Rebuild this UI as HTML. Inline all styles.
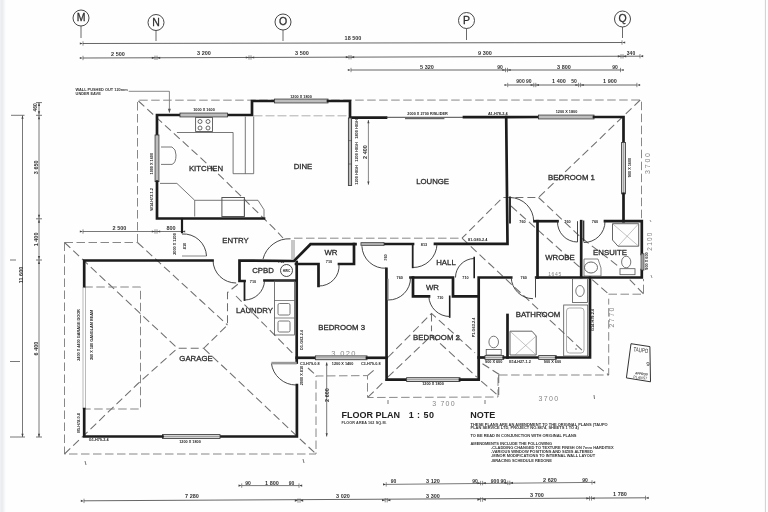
<!DOCTYPE html>
<html><head><meta charset="utf-8"><style>
html,body{margin:0;padding:0;background:#fff;}
body{width:768px;height:512px;overflow:hidden;position:relative;}
svg{position:absolute;left:0;top:0;font-family:"Liberation Sans",sans-serif;filter:blur(0.35px);}
</style></head><body>
<svg width="768" height="512" viewBox="0 0 768 512">
<rect x="0" y="0" width="768" height="512" fill="#fefefe"/>
<defs><linearGradient id="lg" x1="0" y1="0" x2="1" y2="0"><stop offset="0" stop-color="#f0f1f3"/><stop offset="0.35" stop-color="#e9ebee"/><stop offset="0.65" stop-color="#f3f4f5"/><stop offset="1" stop-color="#fefefe"/></linearGradient></defs>
<rect x="0" y="0" width="6" height="512" fill="url(#lg)"/>
<line x1="765.4" y1="0" x2="765.4" y2="512" stroke="#cfcfcf" stroke-width="1"/>
<circle cx="81" cy="18" r="8" fill="none" stroke="#333" stroke-width="0.9"/>
<line x1="81" y1="26" x2="81" y2="38" stroke="#444" stroke-width="0.8"/>
<text x="81" y="21.28" font-size="10.5" text-anchor="middle" font-weight="normal" fill="#333" stroke="#2a2a2a" stroke-width="0.28">M</text>
<circle cx="156" cy="22.5" r="8" fill="none" stroke="#333" stroke-width="0.9"/>
<line x1="156" y1="30.5" x2="156" y2="41" stroke="#444" stroke-width="0.8"/>
<text x="156" y="25.78" font-size="10.5" text-anchor="middle" font-weight="normal" fill="#333" stroke="#2a2a2a" stroke-width="0.28">N</text>
<circle cx="283" cy="22" r="8" fill="none" stroke="#333" stroke-width="0.9"/>
<line x1="283" y1="30" x2="283" y2="41" stroke="#444" stroke-width="0.8"/>
<text x="283" y="25.28" font-size="10.5" text-anchor="middle" font-weight="normal" fill="#333" stroke="#2a2a2a" stroke-width="0.28">O</text>
<circle cx="466.5" cy="20.5" r="8" fill="none" stroke="#333" stroke-width="0.9"/>
<line x1="466.5" y1="28.5" x2="466.5" y2="40" stroke="#444" stroke-width="0.8"/>
<text x="466.5" y="23.78" font-size="10.5" text-anchor="middle" font-weight="normal" fill="#333" stroke="#2a2a2a" stroke-width="0.28">P</text>
<circle cx="622.5" cy="19" r="8" fill="none" stroke="#333" stroke-width="0.9"/>
<line x1="622.5" y1="27" x2="622.5" y2="38" stroke="#444" stroke-width="0.8"/>
<text x="622.5" y="22.28" font-size="10.5" text-anchor="middle" font-weight="normal" fill="#333" stroke="#2a2a2a" stroke-width="0.28">Q</text>
<line x1="83" y1="43.5" x2="622" y2="42.5" stroke="#555" stroke-width="0.9"/>
<line x1="83" y1="41.3" x2="83" y2="45.7" stroke="#444" stroke-width="0.6"/>
<path d="M83,43.5 L79.8,42.4 L79.8,44.6 Z" fill="#444"/>
<line x1="622" y1="40.3" x2="622" y2="44.7" stroke="#444" stroke-width="0.6"/>
<path d="M622,42.5 L625.2,41.4 L625.2,43.6 Z" fill="#444"/>
<text x="353" y="40.48" font-size="5.5" text-anchor="middle" font-weight="bold" fill="#333">18 500</text>
<line x1="83" y1="58" x2="640" y2="56.2" stroke="#555" stroke-width="0.9"/>
<line x1="83" y1="55.8" x2="83" y2="60.2" stroke="#444" stroke-width="0.6"/>
<path d="M83,58 L79.8,56.9 L79.8,59.1 Z" fill="#444"/>
<line x1="640" y1="54.0" x2="640" y2="58.400000000000006" stroke="#444" stroke-width="0.6"/>
<path d="M640,56.2 L643.2,55.1 L643.2,57.300000000000004 Z" fill="#444"/>
<line x1="155" y1="55.599999999999994" x2="155" y2="60.0" stroke="#444" stroke-width="0.6"/>
<line x1="157" y1="55.599999999999994" x2="157" y2="60.0" stroke="#444" stroke-width="0.6"/>
<path d="M155,57.8 L151.8,56.699999999999996 L151.8,58.9 Z" fill="#444"/>
<path d="M157,57.8 L160.2,56.699999999999996 L160.2,58.9 Z" fill="#444"/>
<line x1="249" y1="55.3" x2="249" y2="59.7" stroke="#444" stroke-width="0.6"/>
<line x1="251" y1="55.3" x2="251" y2="59.7" stroke="#444" stroke-width="0.6"/>
<path d="M249,57.5 L245.8,56.4 L245.8,58.6 Z" fill="#444"/>
<path d="M251,57.5 L254.2,56.4 L254.2,58.6 Z" fill="#444"/>
<line x1="349" y1="55.0" x2="349" y2="59.400000000000006" stroke="#444" stroke-width="0.6"/>
<line x1="351" y1="55.0" x2="351" y2="59.400000000000006" stroke="#444" stroke-width="0.6"/>
<path d="M349,57.2 L345.8,56.1 L345.8,58.300000000000004 Z" fill="#444"/>
<path d="M351,57.2 L354.2,56.1 L354.2,58.300000000000004 Z" fill="#444"/>
<line x1="621" y1="54.099999999999994" x2="621" y2="58.5" stroke="#444" stroke-width="0.6"/>
<line x1="623" y1="54.099999999999994" x2="623" y2="58.5" stroke="#444" stroke-width="0.6"/>
<path d="M621,56.3 L617.8,55.199999999999996 L617.8,57.4 Z" fill="#444"/>
<path d="M623,56.3 L626.2,55.199999999999996 L626.2,57.4 Z" fill="#444"/>
<line x1="351" y1="67.8" x2="351" y2="72.2" stroke="#444" stroke-width="0.6"/>
<path d="M351,70 L347.8,68.9 L347.8,71.1 Z" fill="#444"/>
<line x1="505.5" y1="67.8" x2="505.5" y2="72.2" stroke="#444" stroke-width="0.6"/>
<line x1="507.5" y1="67.8" x2="507.5" y2="72.2" stroke="#444" stroke-width="0.6"/>
<path d="M505.5,70 L502.3,68.9 L502.3,71.1 Z" fill="#444"/>
<path d="M507.5,70 L510.7,68.9 L510.7,71.1 Z" fill="#444"/>
<line x1="620.5" y1="67.8" x2="620.5" y2="72.2" stroke="#444" stroke-width="0.6"/>
<path d="M620.5,70 L623.7,68.9 L623.7,71.1 Z" fill="#444"/>
<line x1="507.7" y1="82.8" x2="507.7" y2="87.2" stroke="#444" stroke-width="0.6"/>
<path d="M507.7,85 L504.5,83.9 L504.5,86.1 Z" fill="#444"/>
<line x1="533.8" y1="82.8" x2="533.8" y2="87.2" stroke="#444" stroke-width="0.6"/>
<line x1="535.8" y1="82.8" x2="535.8" y2="87.2" stroke="#444" stroke-width="0.6"/>
<path d="M533.8,85 L530.5999999999999,83.9 L530.5999999999999,86.1 Z" fill="#444"/>
<path d="M535.8,85 L539.0,83.9 L539.0,86.1 Z" fill="#444"/>
<line x1="578.6" y1="82.8" x2="578.6" y2="87.2" stroke="#444" stroke-width="0.6"/>
<line x1="580.6" y1="82.8" x2="580.6" y2="87.2" stroke="#444" stroke-width="0.6"/>
<path d="M578.6,85 L575.4,83.9 L575.4,86.1 Z" fill="#444"/>
<path d="M580.6,85 L583.8000000000001,83.9 L583.8000000000001,86.1 Z" fill="#444"/>
<line x1="636.9" y1="82.8" x2="636.9" y2="87.2" stroke="#444" stroke-width="0.6"/>
<path d="M636.9,85 L640.1,83.9 L640.1,86.1 Z" fill="#444"/>
<text x="118" y="55.98" font-size="5.5" text-anchor="middle" font-weight="bold" fill="#333">2 500</text>
<text x="204" y="55.48" font-size="5.5" text-anchor="middle" font-weight="bold" fill="#333">3 200</text>
<text x="302" y="54.98" font-size="5.5" text-anchor="middle" font-weight="bold" fill="#333">3 500</text>
<text x="485" y="54.98" font-size="5.5" text-anchor="middle" font-weight="bold" fill="#333">9 300</text>
<text x="631" y="54.8" font-size="5" text-anchor="middle" font-weight="bold" fill="#333">340</text>
<line x1="351" y1="70" x2="621" y2="70" stroke="#555" stroke-width="0.9"/>
<text x="427" y="68.98" font-size="5.5" text-anchor="middle" font-weight="bold" fill="#333">5 320</text>
<text x="500" y="68.8" font-size="5" text-anchor="middle" font-weight="bold" fill="#333">90</text>
<text x="564" y="68.98" font-size="5.5" text-anchor="middle" font-weight="bold" fill="#333">3 800</text>
<text x="615" y="68.8" font-size="5" text-anchor="middle" font-weight="bold" fill="#333">90</text>
<line x1="507.7" y1="85" x2="637" y2="85" stroke="#555" stroke-width="0.9"/>
<text x="524" y="82.8" font-size="5" text-anchor="middle" font-weight="bold" fill="#333">900 90</text>
<text x="559" y="82.98" font-size="5.5" text-anchor="middle" font-weight="bold" fill="#333">1 400</text>
<text x="574" y="82.8" font-size="5" text-anchor="middle" font-weight="bold" fill="#333">50</text>
<text x="610" y="82.98" font-size="5.5" text-anchor="middle" font-weight="bold" fill="#333">1 900</text>
<text x="75.6" y="91.1" font-size="3.9" font-weight="bold" fill="#333">WALL PUSHED OUT 120mm</text>
<text x="75.6" y="95.2" font-size="3.9" font-weight="bold" fill="#333">UNDER EAVE</text>
<line x1="128.7" y1="91.3" x2="169.4" y2="91.3" stroke="#555" stroke-width="0.7"/>
<line x1="169.4" y1="91.3" x2="169.4" y2="112.5" stroke="#555" stroke-width="0.7"/>
<path d="M169.4,113 L167.9,108.8 L170.9,108.8 Z" fill="#555"/>
<line x1="22.5" y1="115.5" x2="22.5" y2="437" stroke="#555" stroke-width="0.8"/>
<line x1="11" y1="115.3" x2="24.5" y2="115.3" stroke="#555" stroke-width="0.8"/>
<line x1="10" y1="437" x2="25" y2="437" stroke="#555" stroke-width="0.8"/>
<line x1="39" y1="102.6" x2="39" y2="437" stroke="#555" stroke-width="0.8"/>
<line x1="36" y1="102.6" x2="42" y2="102.6" stroke="#555" stroke-width="0.8"/>
<line x1="36" y1="115.3" x2="42" y2="115.3" stroke="#555" stroke-width="0.8"/>
<line x1="36" y1="218.8" x2="42" y2="218.8" stroke="#555" stroke-width="0.8"/>
<line x1="36" y1="260" x2="42" y2="260" stroke="#555" stroke-width="0.8"/>
<line x1="36" y1="437" x2="42" y2="437" stroke="#555" stroke-width="0.8"/>
<line x1="10" y1="260" x2="16" y2="260" stroke="#555" stroke-width="0.8"/>
<path d="M22.5,437 L21.4,433.8 L23.6,433.8 Z" fill="#444"/>
<path d="M39,437 L37.9,433.8 L40.1,433.8 Z" fill="#444"/>
<path d="M22.5,115.5 L21.4,118.7 L23.6,118.7 Z" fill="#444"/>
<path d="M39,102.8 L37.9,106.0 L40.1,106.0 Z" fill="#444"/>
<path d="M39,114.5 L37.9,111.3 L40.1,111.3 Z" fill="#444"/>
<path d="M39,116.1 L37.9,119.3 L40.1,119.3 Z" fill="#444"/>
<path d="M39,218.0 L37.9,214.8 L40.1,214.8 Z" fill="#444"/>
<path d="M39,219.60000000000002 L37.9,222.8 L40.1,222.8 Z" fill="#444"/>
<path d="M39,259.2 L37.9,256.0 L40.1,256.0 Z" fill="#444"/>
<path d="M39,260.8 L37.9,264.0 L40.1,264.0 Z" fill="#444"/>
<line x1="10" y1="361.5" x2="20" y2="361.5" stroke="#555" stroke-width="0.8"/>
<text x="0" y="0" font-size="5" text-anchor="middle" fill="#333" font-weight="bold" transform="translate(35.6 107.3) rotate(-90) translate(0 1.7999999999999998)">460</text>
<text x="0" y="0" font-size="5.5" text-anchor="middle" fill="#333" font-weight="bold" transform="translate(35.6 167.3) rotate(-90) translate(0 1.98)">3 650</text>
<text x="0" y="0" font-size="5.5" text-anchor="middle" fill="#333" font-weight="bold" transform="translate(36 239.4) rotate(-90) translate(0 1.98)">1 400</text>
<text x="0" y="0" font-size="5.5" text-anchor="middle" fill="#333" font-weight="bold" transform="translate(20.6 275) rotate(-90) translate(0 1.98)">11 600</text>
<text x="0" y="0" font-size="5.5" text-anchor="middle" fill="#333" font-weight="bold" transform="translate(36 348.5) rotate(-90) translate(0 1.98)">6 400</text>
<line x1="83" y1="231.5" x2="182" y2="231.5" stroke="#555" stroke-width="0.8"/>
<line x1="83" y1="229.3" x2="83" y2="233.7" stroke="#444" stroke-width="0.6"/>
<path d="M83,231.5 L79.8,230.4 L79.8,232.6 Z" fill="#444"/>
<line x1="155" y1="229.3" x2="155" y2="233.7" stroke="#444" stroke-width="0.6"/>
<line x1="157" y1="229.3" x2="157" y2="233.7" stroke="#444" stroke-width="0.6"/>
<path d="M155,231.5 L151.8,230.4 L151.8,232.6 Z" fill="#444"/>
<path d="M157,231.5 L160.2,230.4 L160.2,232.6 Z" fill="#444"/>
<line x1="182" y1="229.3" x2="182" y2="233.7" stroke="#444" stroke-width="0.6"/>
<path d="M182,231.5 L185.2,230.4 L185.2,232.6 Z" fill="#444"/>
<text x="119.5" y="230.28" font-size="5.5" text-anchor="middle" font-weight="bold" fill="#333">2 500</text>
<text x="171" y="230.28" font-size="5.5" text-anchor="middle" font-weight="bold" fill="#333">800</text>
<polyline points="137.5,242.5 137.5,100.2 641.5,100 641.5,219" fill="none" stroke="#828282" stroke-width="0.95" stroke-dasharray="8.5,3.5"/>
<polyline points="64.5,242.5 137.5,242.5" fill="none" stroke="#828282" stroke-width="0.95" stroke-dasharray="8.5,3.5"/>
<polyline points="64.5,242.5 64.5,454 316,454 316,376 367.5,375.6 367.5,397.5 498,397 498,375 608.7,375 608.7,298.7" fill="none" stroke="#828282" stroke-width="0.95" stroke-dasharray="8.5,3.5"/>
<polyline points="608.5,294.2 643.5,294.2 643.5,279" fill="none" stroke="#828282" stroke-width="0.95" stroke-dasharray="8.5,3.5"/>
<polyline points="253.5,115.8 349,115.8" fill="none" stroke="#9a9a9a" stroke-width="0.8" stroke-dasharray="9,3"/>
<polyline points="294,238.2 462,238.2" fill="none" stroke="#828282" stroke-width="0.95" stroke-dasharray="8.5,3.5"/>
<polyline points="138.4,101 218,173.7 274,228.4 283,238" fill="none" stroke="#6e6e6e" stroke-width="1.05" stroke-dasharray="8,4"/>
<polyline points="64.5,242.5 177.5,348.3 203.7,348.3 227.5,325 227.5,292.5 240,282.5" fill="none" stroke="#6e6e6e" stroke-width="1.05" stroke-dasharray="8,4"/>
<polyline points="137.5,242.5 227.5,325" fill="none" stroke="#6e6e6e" stroke-width="1.05" stroke-dasharray="8,4"/>
<polyline points="64.5,454 137.5,384 177.5,348.3" fill="none" stroke="#6e6e6e" stroke-width="1.05" stroke-dasharray="8,4"/>
<polyline points="203.7,348.3 316,454" fill="none" stroke="#6e6e6e" stroke-width="1.05" stroke-dasharray="8,4"/>
<polyline points="236,296 294.5,355" fill="none" stroke="#6e6e6e" stroke-width="1.05" stroke-dasharray="8,4"/>
<polyline points="640.2,100 538.5,197.5 502.7,197.5 462,238.2" fill="none" stroke="#6e6e6e" stroke-width="1.05" stroke-dasharray="8,4"/>
<polyline points="538.5,197.5 581,237.5 620,267.5" fill="none" stroke="#6e6e6e" stroke-width="1.05" stroke-dasharray="8,4"/>
<polyline points="462,238.2 583,351" fill="none" stroke="#6e6e6e" stroke-width="1.05" stroke-dasharray="8,4"/>
<polyline points="511,206 580,267.5" fill="none" stroke="#6e6e6e" stroke-width="1.05" stroke-dasharray="8,4"/>
<polyline points="592.2,279.7 608.5,293.8" fill="none" stroke="#6e6e6e" stroke-width="1.05" stroke-dasharray="8,4"/>
<polyline points="643.5,293.8 629.7,279.7" fill="none" stroke="#6e6e6e" stroke-width="1.05" stroke-dasharray="8,4"/>
<polyline points="597.5,366.2 608.7,375" fill="none" stroke="#6e6e6e" stroke-width="1.05" stroke-dasharray="8,4"/>
<polyline points="482.5,363.7 500,375" fill="none" stroke="#6e6e6e" stroke-width="1.05" stroke-dasharray="8,4"/>
<polyline points="498.7,375 498.7,397" fill="none" stroke="#6e6e6e" stroke-width="1.05" stroke-dasharray="8,4"/>
<polyline points="481.2,381.2 497.5,395" fill="none" stroke="#6e6e6e" stroke-width="1.05" stroke-dasharray="8,4"/>
<polyline points="308,368 316.4,375.6" fill="none" stroke="#6e6e6e" stroke-width="1.05" stroke-dasharray="8,4"/>
<polyline points="367.5,375.6 375.4,369" fill="none" stroke="#6e6e6e" stroke-width="1.05" stroke-dasharray="8,4"/>
<polyline points="368,397.2 386.5,379" fill="none" stroke="#6e6e6e" stroke-width="1.05" stroke-dasharray="8,4"/>
<polyline points="431.5,313.4 431.5,331.2" fill="none" stroke="#6e6e6e" stroke-width="1.05" stroke-dasharray="8,4"/>
<polyline points="387.8,357.5 431.5,313.4 475,352.8" fill="none" stroke="#6e6e6e" stroke-width="1.05" stroke-dasharray="8,4"/>
<polyline points="387.8,377.2 431.5,335.5 476.9,377.2" fill="none" stroke="#6e6e6e" stroke-width="1.05" stroke-dasharray="8,4"/>
<polyline points="84.3,287 140.5,287 140.5,409 84.3,409" fill="none" stroke="#828282" stroke-width="0.95" stroke-dasharray="8.5,3.5"/>
<line x1="83" y1="287" x2="83" y2="409" stroke="#777" stroke-width="0.5"/>
<line x1="85.5" y1="287" x2="85.5" y2="409" stroke="#777" stroke-width="0.5"/>
<polyline points="180,115 157,115 157,135" fill="none" stroke="#1c1c1c" stroke-width="2.7" stroke-linecap="square" stroke-linejoin="miter"/>
<polyline points="227.5,115 252,115 252,101 274.5,101" fill="none" stroke="#1c1c1c" stroke-width="2.7" stroke-linecap="square" stroke-linejoin="miter"/>
<rect x="180" y="113.1" width="47.5" height="3.8" fill="#dcdcdc" stroke="#3a3a3a" stroke-width="0.9"/>
<line x1="180" y1="115" x2="227.5" y2="115" stroke="#777" stroke-width="0.6"/>
<rect x="274.5" y="99.1" width="53.5" height="3.8" fill="#dcdcdc" stroke="#3a3a3a" stroke-width="0.9"/>
<line x1="274.5" y1="101" x2="328" y2="101" stroke="#777" stroke-width="0.6"/>
<polyline points="328,101 350,101 350,117.6 386,117.6" fill="none" stroke="#1c1c1c" stroke-width="2.7" stroke-linecap="square" stroke-linejoin="miter"/>
<line x1="386" y1="117.3" x2="464" y2="117.3" stroke="#333" stroke-width="0.9"/>
<rect x="405" y="117.6" width="39.4" height="1.6" fill="#666"/>
<polyline points="464,117.2 538.5,117" fill="none" stroke="#1c1c1c" stroke-width="2.7" stroke-linecap="square" stroke-linejoin="miter"/>
<rect x="538.5" y="115.1" width="55.5" height="3.8" fill="#dcdcdc" stroke="#3a3a3a" stroke-width="0.9"/>
<line x1="538.5" y1="117" x2="594" y2="117" stroke="#777" stroke-width="0.6"/>
<polyline points="594,117 623.5,117 623.5,142.5" fill="none" stroke="#1c1c1c" stroke-width="2.7" stroke-linecap="square" stroke-linejoin="miter"/>
<rect x="621.6" y="142.5" width="3.8" height="51.30000000000001" fill="#dcdcdc" stroke="#3a3a3a" stroke-width="0.9"/>
<line x1="623.5" y1="142.5" x2="623.5" y2="193.8" stroke="#777" stroke-width="0.6"/>
<polyline points="623.5,193.8 623.5,221.2" fill="none" stroke="#1c1c1c" stroke-width="2.7" stroke-linecap="square" stroke-linejoin="miter"/>
<rect x="155.1" y="135" width="3.8" height="46.599999999999994" fill="#dcdcdc" stroke="#3a3a3a" stroke-width="0.9"/>
<line x1="157" y1="135" x2="157" y2="181.6" stroke="#777" stroke-width="0.6"/>
<polyline points="157,181.6 157,218.5 264,218.5" fill="none" stroke="#1c1c1c" stroke-width="2.7" stroke-linecap="square" stroke-linejoin="miter"/>
<polyline points="182,219 182,232" fill="none" stroke="#1c1c1c" stroke-width="2.2" stroke-linecap="square" stroke-linejoin="miter"/>
<rect x="348.4" y="118" width="3.2" height="67.5" fill="#dcdcdc" stroke="#3a3a3a" stroke-width="0.9"/>
<line x1="350" y1="118" x2="350" y2="185.5" stroke="#777" stroke-width="0.6"/>
<line x1="368.4" y1="120" x2="368.4" y2="184.7" stroke="#555" stroke-width="0.7"/>
<text x="0" y="0" font-size="5.5" text-anchor="middle" fill="#333" font-weight="bold" transform="translate(364.7 152) rotate(-90) translate(0 1.98)">2 400</text>
<text x="0" y="0" font-size="3.9" text-anchor="middle" fill="#222" font-weight="bold" transform="translate(356.3 129) rotate(-90) translate(0 1.404)">1800 HIGH</text>
<text x="0" y="0" font-size="3.9" text-anchor="middle" fill="#222" font-weight="bold" transform="translate(356.3 152) rotate(-90) translate(0 1.404)">1200 HIGH</text>
<text x="0" y="0" font-size="3.9" text-anchor="middle" fill="#222" font-weight="bold" transform="translate(356.3 175) rotate(-90) translate(0 1.404)">1200 HIGH</text>
<line x1="348" y1="140.6" x2="352" y2="140.6" stroke="#444" stroke-width="0.6"/>
<line x1="348" y1="164" x2="352" y2="164" stroke="#444" stroke-width="0.6"/>
<path d="M368.4,120 L367.29999999999995,123.2 L369.5,123.2 Z" fill="#444"/>
<path d="M368.4,184.7 L367.29999999999995,181.5 L369.5,181.5 Z" fill="#444"/>
<polyline points="506.2,117 507.5,243.8 435,243.8" fill="none" stroke="#1c1c1c" stroke-width="2.7" stroke-linecap="square" stroke-linejoin="miter"/>
<polyline points="413,244 384,244" fill="none" stroke="#1c1c1c" stroke-width="2.7" stroke-linecap="square" stroke-linejoin="miter"/>
<rect x="361" y="242.7" width="23" height="2.6" fill="#dcdcdc" stroke="#3a3a3a" stroke-width="0.9"/>
<line x1="361" y1="244" x2="384" y2="244" stroke="#777" stroke-width="0.6"/>
<polyline points="355.5,244.2 310.5,244.2 294,261 239.5,260.5 239.5,281 244.5,281" fill="none" stroke="#1c1c1c" stroke-width="2.7" stroke-linecap="square" stroke-linejoin="miter"/>
<polyline points="354,244.2 354,264 339,264" fill="none" stroke="#1c1c1c" stroke-width="2.7" stroke-linecap="square" stroke-linejoin="miter"/>
<polyline points="318.5,286 318.5,264 296,264" fill="none" stroke="#1c1c1c" stroke-width="2.7" stroke-linecap="square" stroke-linejoin="miter"/>
<polyline points="264.5,280.5 296,280.5" fill="none" stroke="#1c1c1c" stroke-width="2.7" stroke-linecap="square" stroke-linejoin="miter"/>
<polyline points="244.5,281 244.5,300" fill="none" stroke="#1c1c1c" stroke-width="1.8" stroke-linecap="square" stroke-linejoin="miter"/>
<polyline points="296.7,262 296.7,362.5" fill="none" stroke="#1c1c1c" stroke-width="2.7" stroke-linecap="square" stroke-linejoin="miter"/>
<polyline points="296.9,385 296.9,436.5 220,436.5" fill="none" stroke="#1c1c1c" stroke-width="2.7" stroke-linecap="square" stroke-linejoin="miter"/>
<rect x="162.5" y="434.6" width="57.5" height="3.8" fill="#dcdcdc" stroke="#3a3a3a" stroke-width="0.9"/>
<line x1="162.5" y1="436.5" x2="220" y2="436.5" stroke="#777" stroke-width="0.6"/>
<polyline points="162.5,436.5 84.2,436.5 84.2,409" fill="none" stroke="#1c1c1c" stroke-width="2.7" stroke-linecap="square" stroke-linejoin="miter"/>
<polyline points="84.2,286.2 84.2,260.5 212.5,260.5" fill="none" stroke="#1c1c1c" stroke-width="2.7" stroke-linecap="square" stroke-linejoin="miter"/>
<polyline points="296.7,357.8 315.4,357.8" fill="none" stroke="#1c1c1c" stroke-width="2.7" stroke-linecap="square" stroke-linejoin="miter"/>
<rect x="315.4" y="355.90000000000003" width="51.60000000000002" height="3.8" fill="#dcdcdc" stroke="#3a3a3a" stroke-width="0.9"/>
<line x1="315.4" y1="357.8" x2="367" y2="357.8" stroke="#777" stroke-width="0.6"/>
<polyline points="367,357.8 386.6,357.8" fill="none" stroke="#1c1c1c" stroke-width="2.7" stroke-linecap="square" stroke-linejoin="miter"/>
<polyline points="386.4,268.8 386.6,379.6 406.6,379.6" fill="none" stroke="#1c1c1c" stroke-width="2.7" stroke-linecap="square" stroke-linejoin="miter"/>
<rect x="406.6" y="377.70000000000005" width="53.39999999999998" height="3.8" fill="#dcdcdc" stroke="#3a3a3a" stroke-width="0.9"/>
<line x1="406.6" y1="379.6" x2="460" y2="379.6" stroke="#777" stroke-width="0.6"/>
<polyline points="460,379.6 478.7,379.6 478.7,277.5 511.2,277.5" fill="none" stroke="#1c1c1c" stroke-width="2.7" stroke-linecap="square" stroke-linejoin="miter"/>
<polyline points="410.5,277.5 453,277.5 453,296.3 478.5,296.3" fill="none" stroke="#1c1c1c" stroke-width="2.7" stroke-linecap="square" stroke-linejoin="miter"/>
<polyline points="413,277.5 413,296.3 429,296.3" fill="none" stroke="#1c1c1c" stroke-width="2.7" stroke-linecap="square" stroke-linejoin="miter"/>
<polyline points="449.7,296.3 449.7,317" fill="none" stroke="#1c1c1c" stroke-width="1.6" stroke-linecap="square" stroke-linejoin="miter"/>
<polyline points="474.2,257.5 474.2,277.5" fill="none" stroke="#1c1c1c" stroke-width="1.6" stroke-linecap="square" stroke-linejoin="miter"/>
<polyline points="510,197.5 510,222.5" fill="none" stroke="#1c1c1c" stroke-width="1.8" stroke-linecap="square" stroke-linejoin="miter"/>
<polyline points="534.5,221.2 557.5,221.2" fill="none" stroke="#1c1c1c" stroke-width="2.7" stroke-linecap="square" stroke-linejoin="miter"/>
<polyline points="537.5,221.2 537.5,277.5" fill="none" stroke="#1c1c1c" stroke-width="2.7" stroke-linecap="square" stroke-linejoin="miter"/>
<polyline points="536.2,277.5 641.8,277.5 641.8,270" fill="none" stroke="#1c1c1c" stroke-width="2.7" stroke-linecap="square" stroke-linejoin="miter"/>
<polyline points="581.2,221.2 581.2,277.5" fill="none" stroke="#1c1c1c" stroke-width="2.7" stroke-linecap="square" stroke-linejoin="miter"/>
<polyline points="605,221.2 641.8,221.2 641.8,253.8" fill="none" stroke="#1c1c1c" stroke-width="2.7" stroke-linecap="square" stroke-linejoin="miter"/>
<rect x="641.1" y="253.8" width="2.8" height="16.19999999999999" fill="#dcdcdc" stroke="#3a3a3a" stroke-width="0.9"/>
<line x1="642.5" y1="253.8" x2="642.5" y2="270" stroke="#777" stroke-width="0.6"/>
<polyline points="583.7,221.2 583.7,241" fill="none" stroke="#1c1c1c" stroke-width="1.2" stroke-linecap="square" stroke-linejoin="miter"/>
<polyline points="478.7,357.5 485,357.5" fill="none" stroke="#1c1c1c" stroke-width="2.7" stroke-linecap="square" stroke-linejoin="miter"/>
<rect x="485" y="355.6" width="18.69999999999999" height="3.8" fill="#dcdcdc" stroke="#3a3a3a" stroke-width="0.9"/>
<line x1="485" y1="357.5" x2="503.7" y2="357.5" stroke="#777" stroke-width="0.6"/>
<polyline points="503.7,357.5 538.7,357.5" fill="none" stroke="#1c1c1c" stroke-width="2.7" stroke-linecap="square" stroke-linejoin="miter"/>
<rect x="538.7" y="355.6" width="17.5" height="3.8" fill="#dcdcdc" stroke="#3a3a3a" stroke-width="0.9"/>
<line x1="538.7" y1="357.5" x2="556.2" y2="357.5" stroke="#777" stroke-width="0.6"/>
<polyline points="556.2,357.5 590,357.5 590,277.5" fill="none" stroke="#1c1c1c" stroke-width="2.7" stroke-linecap="square" stroke-linejoin="miter"/>
<polyline points="507.5,315 507.5,357.5" fill="none" stroke="#1c1c1c" stroke-width="2.7" stroke-linecap="square" stroke-linejoin="miter"/>
<path d="M182,234 A23,23 0 0 1 206.5,256" fill="none" stroke="#333" stroke-width="0.9"/>
<line x1="182" y1="256" x2="206.5" y2="256" stroke="#555" stroke-width="0.7"/>
<path d="M213,260.5 A23,23 0 0 0 236.2,283" fill="none" stroke="#333" stroke-width="0.9"/>
<path d="M244.5,300 A20,20 0 0 0 264.5,281" fill="none" stroke="#333" stroke-width="0.9"/>
<path d="M318.5,286 A20,20 0 0 0 339,264" fill="none" stroke="#333" stroke-width="0.9"/>
<path d="M361.9,246.2 A23,23 0 0 0 386.4,268.2" fill="none" stroke="#333" stroke-width="0.9"/>
<path d="M412.5,267.5 A24,24 0 0 0 437,244" fill="none" stroke="#333" stroke-width="0.9"/>
<line x1="412.7" y1="244" x2="412.7" y2="268.2" stroke="#222" stroke-width="1.8"/>
<path d="M388,300 A22,22 0 0 0 410.5,277.5" fill="none" stroke="#333" stroke-width="0.9"/>
<line x1="388" y1="278.7" x2="388" y2="300" stroke="#888" stroke-width="1.2"/>
<path d="M428.8,296.3 A21,21 0 0 0 450,316.5" fill="none" stroke="#333" stroke-width="0.9"/>
<path d="M455.5,277.5 A19,19 0 0 1 474.2,258.5" fill="none" stroke="#333" stroke-width="0.9"/>
<path d="M510,197.5 A24,24 0 0 1 533.7,221.2" fill="none" stroke="#333" stroke-width="0.9"/>
<path d="M557.5,221.2 A20,20 0 0 0 577.5,242" fill="none" stroke="#333" stroke-width="0.9"/>
<line x1="577.5" y1="221.2" x2="577.5" y2="242" stroke="#444" stroke-width="1.0"/>
<path d="M605,221.2 A21,21 0 0 1 583.7,242.5" fill="none" stroke="#333" stroke-width="0.9"/>
<path d="M511.2,277.5 A22,22 0 0 0 533,298.7" fill="none" stroke="#333" stroke-width="0.9"/>
<line x1="535.5" y1="277.5" x2="535.5" y2="297.5" stroke="#444" stroke-width="1.0"/>
<path d="M271.4,363.4 A25,25 0 0 0 296,385" fill="none" stroke="#333" stroke-width="0.9"/>
<rect x="271.4" y="361.8" width="25.3" height="2.6" fill="#999"/>
<line x1="292" y1="240" x2="292" y2="259" stroke="#777" stroke-width="0.8"/>
<line x1="294" y1="240" x2="294" y2="259" stroke="#777" stroke-width="0.8"/>
<path d="M263,259 A27,27 0 0 1 290.5,238.8" fill="none" stroke="#333" stroke-width="0.9"/>
<rect x="195.6" y="117.5" width="16.9" height="14" fill="none" stroke="#555" stroke-width="0.9"/>
<circle cx="200" cy="121.5" r="2" fill="none" stroke="#444" stroke-width="0.8"/>
<circle cx="208" cy="121.5" r="2" fill="none" stroke="#444" stroke-width="0.8"/>
<circle cx="200" cy="128" r="2" fill="none" stroke="#444" stroke-width="0.8"/>
<circle cx="208" cy="128" r="2" fill="none" stroke="#444" stroke-width="0.8"/>
<polyline points="176.9,132.5 233.1,132.5 233.1,173.7 253.7,173.7 253.7,116.5" fill="none" stroke="#555" stroke-width="0.8"/>
<line x1="245.3" y1="116.5" x2="245.3" y2="173.7" stroke="#555" stroke-width="0.8"/>
<path d="M161,147 L172,147 Q176,149 176,155 Q176,163 172,164.4 L161,164.4" fill="none" stroke="#555" stroke-width="0.8"/>
<polyline points="160,183.4 176.9,183.4 194.7,200.3 258,200.3 264,209.7 264,217" fill="none" stroke="#555" stroke-width="0.8"/>
<line x1="194.7" y1="200.3" x2="194.7" y2="216.5" stroke="#555" stroke-width="0.8"/>
<rect x="221.9" y="197.5" width="22.5" height="19" fill="none" stroke="#555" stroke-width="1"/>
<line x1="244.4" y1="200.3" x2="244.4" y2="216.5" stroke="#555" stroke-width="0.8"/>
<rect x="274.5" y="281" width="20" height="54" fill="none" stroke="#555" stroke-width="0.8"/>
<line x1="274.5" y1="300.5" x2="294.5" y2="300.5" stroke="#555" stroke-width="0.7"/>
<line x1="274.5" y1="318" x2="294.5" y2="318" stroke="#555" stroke-width="0.7"/>
<rect x="278" y="303.5" width="12" height="11.5" rx="1.5" fill="none" stroke="#555" stroke-width="0.8"/>
<rect x="278" y="321" width="12" height="11" rx="1.5" fill="none" stroke="#555" stroke-width="0.8"/>
<circle cx="286.5" cy="270.5" r="6" fill="none" stroke="#333" stroke-width="0.9"/>
<text x="286.5" y="271.652" font-size="3.2" text-anchor="middle" font-weight="bold" fill="#222">HWC</text>
<path d="M612.5,223.7 L638.7,223.7 L638.7,246.2 L618,246.2 L612.5,240 Z" fill="none" stroke="#555" stroke-width="0.9"/>
<line x1="612.5" y1="223.7" x2="638.7" y2="246.2" stroke="#888" stroke-width="0.5"/>
<line x1="638.7" y1="223.7" x2="618" y2="246.2" stroke="#888" stroke-width="0.5"/>
<ellipse cx="626.2" cy="262" rx="4.6" ry="5.8" fill="none" stroke="#555" stroke-width="0.8"/>
<rect x="620" y="268.7" width="15" height="6" fill="none" stroke="#555" stroke-width="0.8"/>
<ellipse cx="591" cy="267.5" rx="6.5" ry="5.5" fill="none" stroke="#555" stroke-width="0.9"/>
<path d="M584,259 L598,259 L601,268 L601,276 L584,276 Z" fill="none" stroke="#555" stroke-width="0.7"/>
<rect x="572.5" y="278.7" width="15" height="23.8" fill="none" stroke="#555" stroke-width="0.8"/>
<ellipse cx="580" cy="291" rx="4.2" ry="5.5" fill="none" stroke="#555" stroke-width="0.8"/>
<rect x="563.7" y="305" width="24" height="51" fill="none" stroke="#555" stroke-width="0.8"/>
<rect x="566.5" y="308" width="17.5" height="45" rx="3" fill="none" stroke="#888" stroke-width="0.7"/>
<circle cx="576" cy="349" r="0.7" fill="#555"/>
<path d="M510,331.2 L532,331.2 L536.2,336 L536.2,355 L510,355 Z" fill="none" stroke="#555" stroke-width="0.9"/>
<line x1="510" y1="331.2" x2="536.2" y2="355" stroke="#888" stroke-width="0.5"/>
<line x1="536.2" y1="336" x2="515" y2="355" stroke="#888" stroke-width="0.5"/>
<ellipse cx="493.7" cy="342" rx="4.8" ry="5.8" fill="none" stroke="#555" stroke-width="0.8"/>
<rect x="486.2" y="349.5" width="15" height="5.5" fill="none" stroke="#555" stroke-width="0.8"/>
<text x="206" y="171.308" font-size="7.8" text-anchor="middle" font-weight="normal" fill="#2a2a2a" stroke="#2a2a2a" stroke-width="0.28">KITCHEN</text>
<text x="303" y="169.308" font-size="7.8" text-anchor="middle" font-weight="normal" fill="#2a2a2a" stroke="#2a2a2a" stroke-width="0.28">DINE</text>
<text x="432.6" y="184.308" font-size="7.8" text-anchor="middle" font-weight="normal" fill="#2a2a2a" stroke="#2a2a2a" stroke-width="0.28">LOUNGE</text>
<text x="571.5" y="180.308" font-size="7.8" text-anchor="middle" font-weight="normal" fill="#2a2a2a" stroke="#2a2a2a" stroke-width="0.28">BEDROOM 1</text>
<text x="235.5" y="243.308" font-size="7.8" text-anchor="middle" font-weight="normal" fill="#2a2a2a" stroke="#2a2a2a" stroke-width="0.28">ENTRY</text>
<text x="331" y="255.308" font-size="7.8" text-anchor="middle" font-weight="normal" fill="#2a2a2a" stroke="#2a2a2a" stroke-width="0.28">WR</text>
<text x="263" y="273.308" font-size="7.8" text-anchor="middle" font-weight="normal" fill="#2a2a2a" stroke="#2a2a2a" stroke-width="0.28">CPBD</text>
<text x="446" y="264.808" font-size="7.8" text-anchor="middle" font-weight="normal" fill="#2a2a2a" stroke="#2a2a2a" stroke-width="0.28">HALL</text>
<text x="432.5" y="289.808" font-size="7.8" text-anchor="middle" font-weight="normal" fill="#2a2a2a" stroke="#2a2a2a" stroke-width="0.28">WR</text>
<text x="560" y="259.808" font-size="7.8" text-anchor="middle" font-weight="normal" fill="#2a2a2a" stroke="#2a2a2a" stroke-width="0.28">WROBE</text>
<text x="610" y="255.308" font-size="7.8" text-anchor="middle" font-weight="normal" fill="#2a2a2a" stroke="#2a2a2a" stroke-width="0.28">ENSUITE</text>
<text x="254.5" y="312.808" font-size="7.8" text-anchor="middle" font-weight="normal" fill="#2a2a2a" stroke="#2a2a2a" stroke-width="0.28">LAUNDRY</text>
<text x="341.7" y="329.808" font-size="7.8" text-anchor="middle" font-weight="normal" fill="#2a2a2a" stroke="#2a2a2a" stroke-width="0.28">BEDROOM 3</text>
<text x="436.5" y="339.608" font-size="7.8" text-anchor="middle" font-weight="normal" fill="#2a2a2a" stroke="#2a2a2a" stroke-width="0.28">BEDROOM 2</text>
<text x="538" y="317.308" font-size="7.8" text-anchor="middle" font-weight="normal" fill="#2a2a2a" stroke="#2a2a2a" stroke-width="0.28">BATHROOM</text>
<text x="196" y="360.808" font-size="7.8" text-anchor="middle" font-weight="normal" fill="#2a2a2a" stroke="#2a2a2a" stroke-width="0.28">GARAGE</text>
<text x="204" y="110.96799999999999" font-size="3.8" text-anchor="middle" font-weight="bold" fill="#222">1000 X 1600</text>
<text x="301" y="97.868" font-size="3.8" text-anchor="middle" font-weight="bold" fill="#222">1200 X 1800</text>
<text x="427.5" y="114.768" font-size="3.8" text-anchor="middle" font-weight="bold" fill="#222">2000 X 2700 R/SLIDER</text>
<text x="497.7" y="114.568" font-size="3.8" text-anchor="middle" font-weight="bold" fill="#222">A1-H78-2.4</text>
<text x="566.5" y="113.368" font-size="3.8" text-anchor="middle" font-weight="bold" fill="#222">1200 X 1800</text>
<text x="190" y="443.368" font-size="3.8" text-anchor="middle" font-weight="bold" fill="#222">1200 X 1800</text>
<text x="309.8" y="365.168" font-size="3.8" text-anchor="middle" font-weight="bold" fill="#222">C3-H79-0.8</text>
<text x="342.6" y="365.168" font-size="3.8" text-anchor="middle" font-weight="bold" fill="#222">1200 X 1400</text>
<text x="370.7" y="365.168" font-size="3.8" text-anchor="middle" font-weight="bold" fill="#222">C3-H79-0.8</text>
<text x="493.7" y="363.368" font-size="3.8" text-anchor="middle" font-weight="bold" fill="#222">900 X 600</text>
<text x="520" y="363.368" font-size="3.8" text-anchor="middle" font-weight="bold" fill="#222">E14-H27-1.2</text>
<text x="552.5" y="363.368" font-size="3.8" text-anchor="middle" font-weight="bold" fill="#222">900 X 600</text>
<text x="433" y="384.868" font-size="3.8" text-anchor="middle" font-weight="bold" fill="#222">1200 X 1800</text>
<text x="424" y="246.368" font-size="3.8" text-anchor="middle" font-weight="bold" fill="#222">813</text>
<text x="522.5" y="223.368" font-size="3.8" text-anchor="middle" font-weight="bold" fill="#222">760</text>
<text x="567.5" y="223.368" font-size="3.8" text-anchor="middle" font-weight="bold" fill="#222">760</text>
<text x="595" y="223.368" font-size="3.8" text-anchor="middle" font-weight="bold" fill="#222">760</text>
<text x="523.7" y="279.368" font-size="3.8" text-anchor="middle" font-weight="bold" fill="#222">760</text>
<text x="465.5" y="279.368" font-size="3.8" text-anchor="middle" font-weight="bold" fill="#222">710</text>
<text x="440.3" y="298.868" font-size="3.8" text-anchor="middle" font-weight="bold" fill="#222">710</text>
<text x="399.7" y="279.368" font-size="3.8" text-anchor="middle" font-weight="bold" fill="#222">760</text>
<text x="281.2" y="263.368" font-size="3.8" text-anchor="middle" font-weight="bold" fill="#222">710</text>
<text x="329" y="262.868" font-size="3.8" text-anchor="middle" font-weight="bold" fill="#222">710</text>
<text x="253" y="282.868" font-size="3.8" text-anchor="middle" font-weight="bold" fill="#222">710</text>
<text x="477.7" y="241.368" font-size="3.8" text-anchor="middle" font-weight="bold" fill="#222">81-G80-2.4</text>
<text x="98.6" y="441.368" font-size="3.8" text-anchor="middle" font-weight="bold" fill="#222">G1-H79-2.4</text>
<text x="0" y="0" font-size="3.8" text-anchor="middle" fill="#222" font-weight="bold" transform="translate(151.5 163.7) rotate(-90) translate(0 1.3679999999999999)">1000 X 1600</text>
<text x="0" y="0" font-size="3.8" text-anchor="middle" fill="#222" font-weight="bold" transform="translate(151.5 199.4) rotate(-90) translate(0 1.3679999999999999)">W14-H73-1.2</text>
<text x="0" y="0" font-size="3.8" text-anchor="middle" fill="#222" font-weight="bold" transform="translate(175 244) rotate(-90) translate(0 1.3679999999999999)">2000 X 1200</text>
<text x="0" y="0" font-size="3.8" text-anchor="middle" fill="#222" font-weight="bold" transform="translate(184.4 246) rotate(-90) translate(0 1.3679999999999999)">810</text>
<text x="0" y="0" font-size="3.8" text-anchor="middle" fill="#222" font-weight="bold" transform="translate(629.5 167.5) rotate(-90) translate(0 1.3679999999999999)">900 X 1600</text>
<text x="0" y="0" font-size="3.8" text-anchor="middle" fill="#222" font-weight="bold" transform="translate(301.4 375.6) rotate(-90) translate(0 1.3679999999999999)">2000 X 810</text>
<text x="0" y="0" font-size="3.8" text-anchor="middle" fill="#222" font-weight="bold" transform="translate(302 340) rotate(-90) translate(0 1.3679999999999999)">D1-G63-2.4</text>
<text x="0" y="0" font-size="3.8" text-anchor="middle" fill="#222" font-weight="bold" transform="translate(474 327.5) rotate(-90) translate(0 1.3679999999999999)">P1-G63-2.4</text>
<text x="0" y="0" font-size="3.8" text-anchor="middle" fill="#222" font-weight="bold" transform="translate(593 320) rotate(-90) translate(0 1.3679999999999999)">G14-H79-2.4</text>
<text x="0" y="0" font-size="3.8" text-anchor="middle" fill="#222" font-weight="bold" transform="translate(79 335) rotate(-90) translate(0 1.3679999999999999)">2400 X 4400 GARAGE DOOR</text>
<text x="0" y="0" font-size="3.8" text-anchor="middle" fill="#222" font-weight="bold" transform="translate(91.2 335) rotate(-90) translate(0 1.3679999999999999)">360 X 180 GANGLAM BEAM</text>
<text x="0" y="0" font-size="3.8" text-anchor="middle" fill="#222" font-weight="bold" transform="translate(79 423) rotate(-90) translate(0 1.3679999999999999)">B5-H78-0.8</text>
<text x="0" y="0" font-size="3.8" text-anchor="middle" fill="#222" font-weight="bold" transform="translate(385.5 257.5) rotate(-90) translate(0 1.3679999999999999)">760</text>
<text x="0" y="0" font-size="3.8" text-anchor="middle" fill="#222" font-weight="bold" transform="translate(647 261) rotate(-90) translate(0 1.3679999999999999)">900 X 600</text>
<text x="0" y="0" font-size="7" letter-spacing="1.8" fill="#858585" font-family="Liberation Sans" transform="translate(650 162.6) rotate(-90)" text-anchor="middle">3700</text>
<text x="0" y="0" font-size="6.5" letter-spacing="1.2" fill="#858585" font-family="Liberation Sans" transform="translate(652 241) rotate(-90)" text-anchor="middle">2100</text>
<text x="0" y="0" font-size="7" letter-spacing="1.5" fill="#858585" transform="translate(613.5 316.8) rotate(-90)" text-anchor="middle">2770</text>
<text x="344" y="355.8" font-size="7.5" letter-spacing="1.3" fill="#858585" text-anchor="middle">3 020</text>
<text x="444" y="405.7" font-size="7" letter-spacing="1.2" fill="#858585" text-anchor="middle">3 700</text>
<text x="549" y="401.3" font-size="7" letter-spacing="1.4" fill="#858585" text-anchor="middle">3700</text>
<text x="555" y="275.5" font-size="5" letter-spacing="0.6" fill="#858585" text-anchor="middle">1645</text>
<path d="M631,343.7 L649.9,346.6 L650.5,381.8 L626.4,377.9 Z" fill="none" stroke="#333" stroke-width="1"/>
<text x="0" y="0" font-size="6.2" fill="#333" text-anchor="middle" transform="translate(640.6 352.2) rotate(7) scale(0.72 1)">TAUPO</text>
<text x="648" y="366.2" font-size="6.2" fill="#333" text-anchor="middle">9</text>
<text x="0" y="0" font-size="3.6" font-weight="bold" fill="#333" text-anchor="middle" transform="translate(641.5 375) rotate(7) scale(0.85 1)">APPROV</text>
<text x="0" y="0" font-size="4" fill="#333" text-anchor="middle" transform="translate(640.2 379) rotate(7) scale(0.9 1)">PLANS7</text>
<line x1="326.7" y1="362.5" x2="326.7" y2="436.5" stroke="#555" stroke-width="0.8"/>
<path d="M326.7,362.3 L325.59999999999997,365.5 L327.8,365.5 Z" fill="#444"/>
<path d="M326.7,436.5 L325.59999999999997,433.3 L327.8,433.3 Z" fill="#444"/>
<text x="0" y="0" font-size="5.5" text-anchor="middle" fill="#333" font-weight="bold" transform="translate(327 395) rotate(-90) translate(0 1.98)">2 600</text>
<text x="341.6" y="417.8" font-size="9" font-weight="bold" fill="#222">FLOOR PLAN</text>
<text x="408.7" y="417.8" font-size="9" letter-spacing="0.45" font-weight="bold" fill="#222">1 : 50</text>
<text x="341.6" y="424.2" font-size="3.7" font-weight="bold" fill="#333" textLength="45">FLOOR AREA  162 SQ.M.</text>
<text x="470.2" y="417.6" font-size="9" font-weight="bold" fill="#222">NOTE</text>
<text x="470.5" y="425.59999999999997" font-size="3.98" font-weight="bold" fill="#333">THESE PLANS ARE AN AMENDMENT TO THE ORIGINAL PLANS (TAUPO</text>
<text x="470.5" y="429.4" font-size="3.98" font-weight="bold" fill="#333">PLAN SERVICE LTD, PROJECT NO.8874, SHEETS 1 TO 4)</text>
<text x="470.5" y="437.09999999999997" font-size="3.98" font-weight="bold" fill="#333">TO BE READ IN CONJUNCTION WITH ORIGINAL PLANS</text>
<text x="470.5" y="445.0" font-size="3.98" font-weight="bold" fill="#333">AMENDMENTS INCLUDE THE FOLLOWING</text>
<text x="491" y="449.2" font-size="3.98" font-weight="bold" fill="#333">-CLADDING CHANGED TO TEXTURE FINISH ON 7mm HARDITEX</text>
<text x="491" y="453.0" font-size="3.98" font-weight="bold" fill="#333">-VARIOUS WINDOW POSITIONS AND SIZES ALTERED</text>
<text x="491" y="457.09999999999997" font-size="3.98" font-weight="bold" fill="#333">-MINOR MODIFICATIONS TO INTERNAL WALL LAYOUT</text>
<text x="491" y="461.59999999999997" font-size="3.98" font-weight="bold" fill="#333">-BRACING SCHEDULE REDONE</text>
<line x1="85" y1="461" x2="86" y2="465" stroke="#555" stroke-width="0.8"/>
<line x1="303" y1="459" x2="304" y2="463" stroke="#555" stroke-width="0.8"/>
<line x1="388" y1="400" x2="388" y2="404" stroke="#555" stroke-width="0.8"/>
<line x1="485" y1="400" x2="485" y2="404" stroke="#555" stroke-width="0.8"/>
<line x1="594" y1="395" x2="594.5" y2="399" stroke="#555" stroke-width="0.8"/>
<line x1="650" y1="220" x2="651" y2="222" stroke="#555" stroke-width="0.6"/>
<line x1="651" y1="275" x2="652" y2="278" stroke="#555" stroke-width="0.6"/>
<line x1="241.7" y1="485.6" x2="299" y2="485.6" stroke="#555" stroke-width="0.8"/>
<text x="248" y="484.8" font-size="5" text-anchor="middle" font-weight="bold" fill="#333">90</text>
<text x="272" y="484.98" font-size="5.5" text-anchor="middle" font-weight="bold" fill="#333">1 800</text>
<text x="291.5" y="484.8" font-size="5" text-anchor="middle" font-weight="bold" fill="#333">90</text>
<line x1="386.2" y1="484.4" x2="592" y2="482.4" stroke="#555" stroke-width="0.8"/>
<text x="393.5" y="483.3" font-size="5" text-anchor="middle" font-weight="bold" fill="#333">90</text>
<text x="433" y="483.48" font-size="5.5" text-anchor="middle" font-weight="bold" fill="#333">3 120</text>
<text x="475" y="483.3" font-size="5" text-anchor="middle" font-weight="bold" fill="#333">90</text>
<text x="498.5" y="483.3" font-size="5" text-anchor="middle" font-weight="bold" fill="#333">900 90</text>
<text x="550" y="482.48" font-size="5.5" text-anchor="middle" font-weight="bold" fill="#333">2 620</text>
<text x="585" y="481.8" font-size="5" text-anchor="middle" font-weight="bold" fill="#333">90</text>
<line x1="84" y1="500.8" x2="645.5" y2="497.8" stroke="#555" stroke-width="0.9"/>
<line x1="84" y1="498.7" x2="84" y2="503.09999999999997" stroke="#444" stroke-width="0.6"/>
<path d="M84,500.9 L80.8,499.79999999999995 L80.8,502.0 Z" fill="#444"/>
<line x1="298" y1="498.40000000000003" x2="298" y2="502.8" stroke="#444" stroke-width="0.6"/>
<line x1="300" y1="498.40000000000003" x2="300" y2="502.8" stroke="#444" stroke-width="0.6"/>
<path d="M298,500.6 L294.8,499.5 L294.8,501.70000000000005 Z" fill="#444"/>
<path d="M300,500.6 L303.2,499.5 L303.2,501.70000000000005 Z" fill="#444"/>
<line x1="385.2" y1="498.0" x2="385.2" y2="502.4" stroke="#444" stroke-width="0.6"/>
<line x1="387.2" y1="498.0" x2="387.2" y2="502.4" stroke="#444" stroke-width="0.6"/>
<path d="M385.2,500.2 L382.0,499.09999999999997 L382.0,501.3 Z" fill="#444"/>
<path d="M387.2,500.2 L390.4,499.09999999999997 L390.4,501.3 Z" fill="#444"/>
<line x1="480.6" y1="497.40000000000003" x2="480.6" y2="501.8" stroke="#444" stroke-width="0.6"/>
<line x1="482.6" y1="497.40000000000003" x2="482.6" y2="501.8" stroke="#444" stroke-width="0.6"/>
<path d="M480.6,499.6 L477.40000000000003,498.5 L477.40000000000003,500.70000000000005 Z" fill="#444"/>
<path d="M482.6,499.6 L485.8,498.5 L485.8,500.70000000000005 Z" fill="#444"/>
<line x1="589.5" y1="496.2" x2="589.5" y2="500.59999999999997" stroke="#444" stroke-width="0.6"/>
<line x1="591.5" y1="496.2" x2="591.5" y2="500.59999999999997" stroke="#444" stroke-width="0.6"/>
<path d="M589.5,498.4 L586.3,497.29999999999995 L586.3,499.5 Z" fill="#444"/>
<path d="M591.5,498.4 L594.7,497.29999999999995 L594.7,499.5 Z" fill="#444"/>
<line x1="645.5" y1="495.7" x2="645.5" y2="500.09999999999997" stroke="#444" stroke-width="0.6"/>
<path d="M645.5,497.9 L648.7,496.79999999999995 L648.7,499.0 Z" fill="#444"/>
<line x1="241.7" y1="483.40000000000003" x2="241.7" y2="487.8" stroke="#444" stroke-width="0.6"/>
<path d="M241.7,485.6 L238.5,484.5 L238.5,486.70000000000005 Z" fill="#444"/>
<line x1="299" y1="483.40000000000003" x2="299" y2="487.8" stroke="#444" stroke-width="0.6"/>
<path d="M299,485.6 L302.2,484.5 L302.2,486.70000000000005 Z" fill="#444"/>
<line x1="386.2" y1="482.2" x2="386.2" y2="486.59999999999997" stroke="#444" stroke-width="0.6"/>
<path d="M386.2,484.4 L383.0,483.29999999999995 L383.0,485.5 Z" fill="#444"/>
<line x1="480.6" y1="480.90000000000003" x2="480.6" y2="485.3" stroke="#444" stroke-width="0.6"/>
<line x1="482.6" y1="480.90000000000003" x2="482.6" y2="485.3" stroke="#444" stroke-width="0.6"/>
<path d="M480.6,483.1 L477.40000000000003,482.0 L477.40000000000003,484.20000000000005 Z" fill="#444"/>
<path d="M482.6,483.1 L485.8,482.0 L485.8,484.20000000000005 Z" fill="#444"/>
<line x1="507.8" y1="480.7" x2="507.8" y2="485.09999999999997" stroke="#444" stroke-width="0.6"/>
<line x1="509.8" y1="480.7" x2="509.8" y2="485.09999999999997" stroke="#444" stroke-width="0.6"/>
<path d="M507.8,482.9 L504.6,481.79999999999995 L504.6,484.0 Z" fill="#444"/>
<path d="M509.8,482.9 L513.0,481.79999999999995 L513.0,484.0 Z" fill="#444"/>
<line x1="592" y1="480.2" x2="592" y2="484.59999999999997" stroke="#444" stroke-width="0.6"/>
<path d="M592,482.4 L595.2,481.29999999999995 L595.2,483.5 Z" fill="#444"/>
<text x="192" y="497.98" font-size="5.5" text-anchor="middle" font-weight="bold" fill="#333">7 280</text>
<text x="343" y="497.98" font-size="5.5" text-anchor="middle" font-weight="bold" fill="#333">3 020</text>
<text x="433" y="497.98" font-size="5.5" text-anchor="middle" font-weight="bold" fill="#333">3 300</text>
<text x="537" y="496.98" font-size="5.5" text-anchor="middle" font-weight="bold" fill="#333">3 700</text>
<text x="620" y="496.48" font-size="5.5" text-anchor="middle" font-weight="bold" fill="#333">1 780</text>
</svg>
</body></html>
